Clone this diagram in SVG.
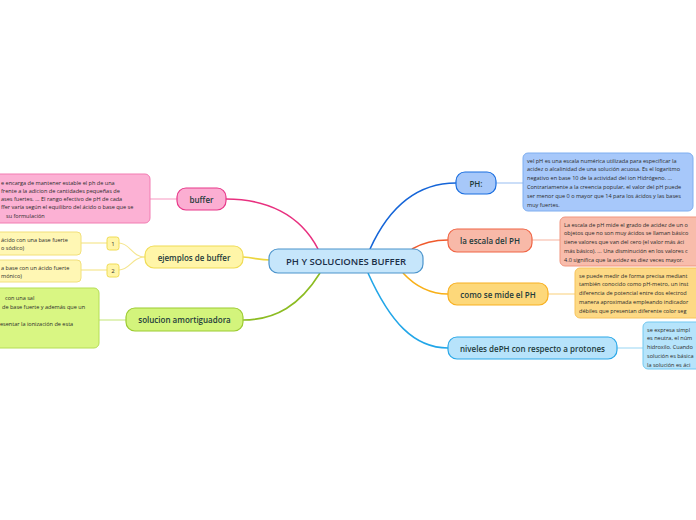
<svg xmlns="http://www.w3.org/2000/svg" width="696" height="520" viewBox="0 0 696 520">
<style>
.main{font-family:"Open Sans","Noto Sans",sans-serif;font-size:9.5px;font-weight:600;fill:#1b2f48;text-anchor:middle;dominant-baseline:central}
.nt{font-family:"Open Sans","Noto Sans",sans-serif;font-size:8px;font-weight:600;fill:#1d3b3b;text-anchor:middle;dominant-baseline:central}
.sm{font-family:"Open Sans","Noto Sans",sans-serif;font-size:5.55px;fill:#2a2a2a;dominant-baseline:central}
.num{font-family:"Open Sans","Noto Sans",sans-serif;font-size:6px;fill:#333;text-anchor:middle;dominant-baseline:central}
.c{fill:none;stroke-width:1.6}
.t{fill:none;stroke-width:1.2}
</style>
<rect width="696" height="520" fill="#ffffff"/>
<g id="connectors">
<path class="c" stroke="#e8307f" d="M318,249 C300,214 266,199 226,199"/>
<path class="c" stroke="#ecd640" d="M243,257 C255,258 260,260 270,260"/>
<path class="c" stroke="#8cbc22" d="M320,273 C300,305 276,320 243,320"/>
<path class="c" stroke="#1565d8" d="M370,249 C390,205 418,183 456,183"/>
<path class="c" stroke="#f05a2c" d="M412,249 C424,242 434,240 448,240"/>
<path class="c" stroke="#f8b018" d="M403,273 C415,286 430,294 448,294"/>
<path class="c" stroke="#22a6e8" d="M368,273 C390,322 414,348 448,348"/>
<path class="t" stroke="#f9a8cb" d="M150,199 H177"/>
<path class="t" stroke="#f5e690" d="M145,257 C132,257 130,243 119,243"/>
<path class="t" stroke="#f5e690" d="M145,257 C132,257 130,270 119,270"/>
<path class="t" stroke="#f5e690" d="M81,243 H107"/>
<path class="t" stroke="#f5e690" d="M81,270 H107"/>
<path class="t" stroke="#cde98c" d="M99,320 H126"/>
<path class="t" stroke="#a8c8f4" d="M496,183 H523"/>
<path class="t" stroke="#f8c0b0" d="M532,240 H560"/>
<path class="t" stroke="#fbd890" d="M548,294 H575"/>
<path class="t" stroke="#a8dcf6" d="M617,348 H643"/>
</g>
<g id="center">
<rect x="269" y="249" width="154" height="24" rx="9" fill="#c6e6fb" stroke="#4b94cc" stroke-width="1.2"/>
<text class="main" x="346" y="261">PH Y SOLUCIONES BUFFER</text>
</g>
<g id="buffer">
<rect x="177" y="188" width="49" height="22" rx="9" fill="#fbaed2" stroke="#e8388a" stroke-width="1.2"/>
<text class="nt" x="201.5" y="199">buffer</text>
</g>
<g id="buffer-text">
<rect x="-10" y="174" width="160" height="49" rx="5" fill="#fcb1d4" stroke="#f27cb2" stroke-width="1"/>
<text class="sm" x="1" y="182.5">e encarga de mantener estable el ph de una</text>
<text class="sm" x="1" y="190.8">frente a la adicion de cantidades pequeñas de</text>
<text class="sm" x="1" y="199.1">ases fuertes. ... El rango efectivo de pH de cada</text>
<text class="sm" x="1" y="207.4">ffer varía según el equilibro del ácido o base que se</text>
<text class="sm" x="6" y="215.7">su formulación</text>
</g>
<g id="ejemplos">
<rect x="145" y="246" width="98" height="22" rx="9" fill="#fff5a8" stroke="#f0dc55" stroke-width="1.2"/>
<text class="nt" x="194" y="257">ejemplos de buffer</text>
</g>
<g id="n1">
<rect x="107" y="237" width="12" height="13" rx="2.5" fill="#fff5a8" stroke="#f0dc55" stroke-width="1"/>
<text class="num" x="113" y="243.5">1</text>
</g>
<g id="n2">
<rect x="107" y="264" width="12" height="13" rx="2.5" fill="#fff5a8" stroke="#f0dc55" stroke-width="1"/>
<text class="num" x="113" y="270.5">2</text>
</g>
<g id="n1-text">
<rect x="-10" y="232" width="91" height="23" rx="4" fill="#fff7b4" stroke="#f2e07a" stroke-width="1"/>
<text class="sm" x="1" y="239.5">ácido con una base fuerte</text>
<text class="sm" x="1" y="248">o sódico)</text>
</g>
<g id="n2-text">
<rect x="-10" y="260" width="91" height="22" rx="4" fill="#fff7b4" stroke="#f2e07a" stroke-width="1"/>
<text class="sm" x="1" y="267.5">a base con un ácido fuerte</text>
<text class="sm" x="1" y="276">mónico)</text>
</g>
<g id="solucion">
<rect x="126" y="308" width="117" height="23" rx="9" fill="#d3f47c" stroke="#9ccb30" stroke-width="1.2"/>
<text class="nt" x="184.5" y="319.5">solucion amortiguadora</text>
</g>
<g id="solucion-text">
<rect x="-10" y="288" width="109" height="60" rx="5" fill="#d9f683" stroke="#b5de55" stroke-width="1"/>
<text class="sm" x="5" y="298">con una sal</text>
<text class="sm" x="2" y="306.5">de base fuerte y además que un</text>
<text class="sm" x="0" y="323.5">esentar la ionización de esta</text>
</g>
<g id="ph">
<rect x="456" y="172" width="40" height="22" rx="9" fill="#a7c8f9" stroke="#1a6ee0" stroke-width="1.2"/>
<text class="nt" x="476" y="183">PH:</text>
</g>
<g id="ph-text">
<rect x="523" y="153" width="170" height="58" rx="5" fill="#a7c8fa" stroke="#7eaef0" stroke-width="1"/>
<text class="sm" x="527" y="160.5">vel pH es una escala numérica utilizada para especificar la</text>
<text class="sm" x="527" y="169.3">acidez o alcalinidad de una solución acuosa. Es el logaritmo</text>
<text class="sm" x="527" y="178.1">negativo en base 10 de la actividad del ion Hidrógeno. ...</text>
<text class="sm" x="527" y="186.9">Contrariamente a la creencia popular, el valor del pH puede</text>
<text class="sm" x="527" y="195.7">ser menor que 0 o mayor que 14 para los ácidos y las bases</text>
<text class="sm" x="527" y="204.5">muy fuertes.</text>
</g>
<g id="escala">
<rect x="448" y="229" width="84" height="23" rx="9" fill="#f8b9a8" stroke="#f06444" stroke-width="1.2"/>
<text class="nt" x="490" y="240.5">la escala del PH</text>
</g>
<g id="escala-text">
<rect x="560" y="217" width="146" height="49" rx="5" fill="#f8bcab" stroke="#f0957f" stroke-width="1"/>
<text class="sm" x="564" y="224.5">La escala de pH mide el grado de acidez de un o</text>
<text class="sm" x="564" y="233.3">objetos que no son muy ácidos se llaman básico</text>
<text class="sm" x="564" y="242.1">tiene valores que van del cero (el valor más áci</text>
<text class="sm" x="564" y="250.9">más básico). ... Una disminución en los valores c</text>
<text class="sm" x="564" y="259.7">4.0 significa que la acidez es diez veces mayor.</text>
</g>
<g id="como">
<rect x="448" y="283" width="100" height="22" rx="9" fill="#fdd87a" stroke="#f8b020" stroke-width="1.2"/>
<text class="nt" x="498" y="294">como se mide el PH</text>
</g>
<g id="como-text">
<rect x="575" y="268" width="131" height="50" rx="5" fill="#fdd985" stroke="#f8c35a" stroke-width="1"/>
<text class="sm" x="579" y="275.5">se puede medir de forma precisa mediant</text>
<text class="sm" x="579" y="284.3">también conocido como pH-metro, un inst</text>
<text class="sm" x="579" y="293.1">diferencia de potencial entre dos electrod</text>
<text class="sm" x="579" y="301.9">manera aproximada empleando indicador</text>
<text class="sm" x="579" y="310.7">débiles que presentan diferente color seg</text>
</g>
<g id="niveles">
<rect x="448" y="337" width="169" height="22" rx="9" fill="#b7e3fb" stroke="#2aa8e8" stroke-width="1.2"/>
<text class="nt" x="532.5" y="348">niveles dePH con respecto a protones</text>
</g>
<g id="niveles-text">
<rect x="643" y="322" width="63" height="47" rx="5" fill="#b6e4fb" stroke="#72c8f0" stroke-width="1"/>
<text class="sm" x="647" y="329.5">se expresa simpl</text>
<text class="sm" x="647" y="338.3">es neutra, el núm</text>
<text class="sm" x="647" y="347.1">hidroxilo. Cuando</text>
<text class="sm" x="647" y="355.9">solución es básica</text>
<text class="sm" x="647" y="364.7">la solución es áci</text>
</g>
</svg>
